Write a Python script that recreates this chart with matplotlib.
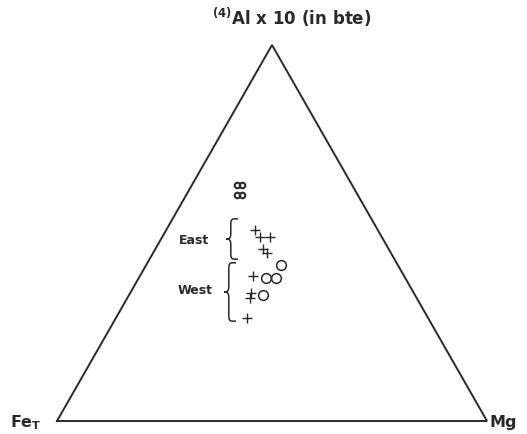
import numpy as np
import matplotlib.pyplot as plt
from matplotlib.path import Path
from matplotlib.patches import PathPatch

# Ternary compositions in percent: (4)Al x10, Fe_T, Mg
# small circles near the top
top_al = [62.8, 62.8, 60.1, 60.1]
top_fe = [26.8, 25.6, 28.1, 26.9]
top_mg = [10.4, 11.6, 11.8, 13.0]

# East group (plus signs)
east_al = [50.8, 48.9, 48.9, 45.7, 44.7]
east_fe = [28.6, 28.4, 26.0, 29.2, 28.8]
east_mg = [20.6, 22.7, 25.1, 25.1, 26.5]

# West group, plus signs and open circles
west_plus_al = [38.6, 34.0, 32.7, 27.4]
west_plus_fe = [35.1, 37.9, 38.8, 42.1]
west_plus_mg = [26.3, 28.1, 28.5, 30.5]

west_circ_al = [38.0, 38.0, 41.5, 33.5]
west_circ_fe = [32.4, 30.1, 27.2, 35.3]
west_circ_mg = [29.6, 31.9, 31.3, 31.2]

INK = '#2a2a2a'
H = np.sqrt(3) / 2


def tern(al, fe, mg):
    al, fe, mg = np.asarray(al, float), np.asarray(fe, float), np.asarray(mg, float)
    s = al + fe + mg
    a, m = al / s, mg / s
    return m + a / 2, a * H


fig = plt.figure(figsize=(5.27, 4.34), dpi=100)
ax = fig.add_axes([0, 0, 1, 1])
ax.axis('off')
# page layout: Fe vertex at (57, 421) px, Mg at (487, 421), apex at y=45
sx = 430.0
sy = 376.0 / H
ax.set_xlim(-57 / sx, (527 - 57) / sx)
ax.set_ylim(-13 / sy, (434 - 13) / sy)


def px(x, y):
    # pixel position (from top-left) -> data coords
    return (x - 57) / sx, (421 - y) / sy


# triangle
tri_x = [0, 1, 0.5, 0]
tri_y = [0, 0, H, 0]
ax.plot(tri_x, tri_y, color=INK, lw=1.4, solid_joinstyle='miter')

# points
x, y = tern(top_al, top_fe, top_mg)
ax.plot(x, y, 'o', mfc='none', mec=INK, ms=4.0, mew=1.5)

x, y = tern(east_al, east_fe, east_mg)
ax.plot(x, y, '+', color=INK, ms=7.5, mew=1.0)

x, y = tern(west_plus_al, west_plus_fe, west_plus_mg)
ax.plot(x, y, '+', color=INK, ms=7.5, mew=1.0)

x, y = tern(west_circ_al, west_circ_fe, west_circ_mg)
ax.plot(x, y, 'o', mfc='none', mec=INK, ms=7.0, mew=1.1)


def brace(x0, ytop, ybot, w=12):
    # curly brace opening to the right, tip pointing left
    ym = (ytop + ybot) / 2
    xs = x0 + w * 0.4
    pts = [(x0 + w, ytop),
           (xs, ytop - 1), (xs, ytop + 1), (xs, ytop + 7),
           (xs, ym - 6),
           (xs, ym - 1), (xs - 1, ym), (x0, ym),
           (xs - 1, ym), (xs, ym + 1), (xs, ym + 6),
           (xs, ybot - 7),
           (xs, ybot - 1), (xs, ybot + 1), (x0 + w, ybot)]
    codes = [Path.MOVETO] + [Path.CURVE4] * 3 + [Path.LINETO] + \
            [Path.CURVE4] * 6 + [Path.LINETO] + [Path.CURVE4] * 3
    ax.add_patch(PathPatch(Path([px(*p) for p in pts], codes),
                           fc='none', ec=INK, lw=1.1))


brace(226, 219, 259)
brace(224, 263, 321)

ax.text(*px(194, 241), 'East', ha='center', va='center', fontsize=9,
        fontweight='bold', color=INK)
ax.text(*px(195, 290), 'West', ha='center', va='center', fontsize=9,
        fontweight='bold', color=INK)

ax.text(*px(292, 17), r'$^{\mathbf{(4)}}$Al x 10 (in bte)', ha='center', va='center',
        fontsize=12, fontweight='bold', color=INK)
ax.text(*px(10, 423), r'Fe$_{\mathbf{T}}$', ha='left', va='center', fontsize=11.5,
        fontweight='bold', color=INK)
ax.text(*px(490, 423), 'Mg', ha='left', va='center', fontsize=11.5,
        fontweight='bold', color=INK)

fig.savefig('out.png', dpi=100)
